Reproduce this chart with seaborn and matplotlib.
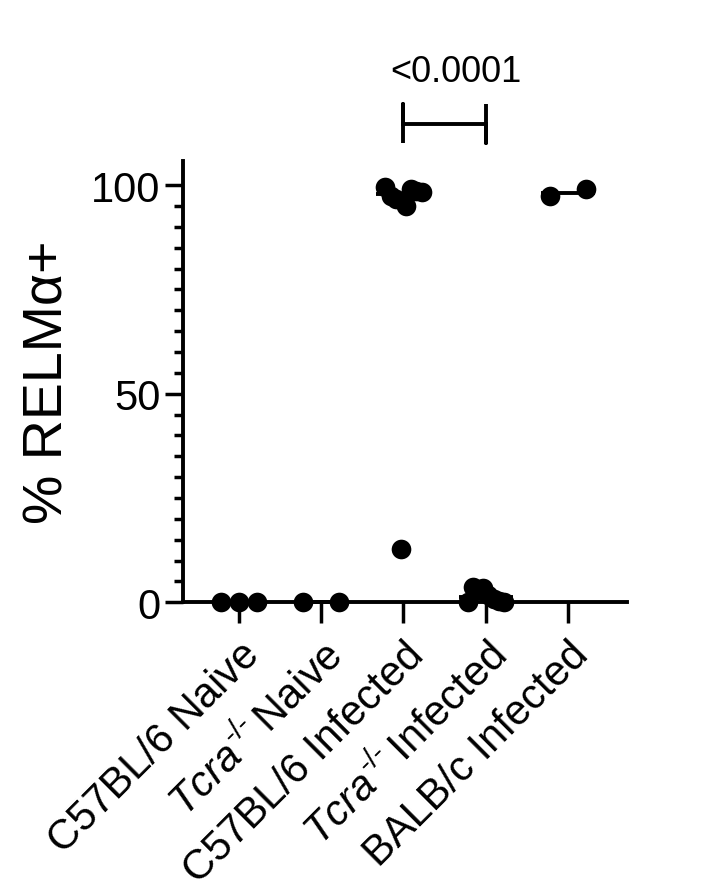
import numpy as np
import pandas as pd
import matplotlib
matplotlib.use('Agg')
import matplotlib.pyplot as plt
import seaborn as sns

groups = ['C57BL/6 Naive', 'Tcra-/- Naive', 'C57BL/6 Infected',
          'Tcra-/- Infected', 'BALB/c Infected']
tick_labels = ['C57BL/6 Naive',
               r'$\mathit{Tcra}^{\text{-/-}}\,$Naive',
               'C57BL/6 Infected',
               r'$\mathit{Tcra}^{\text{-/-}}\,$Infected',
               'BALB/c Infected']

b6_naive = [0.0, 0.0, 0.0]
tcra_naive = [0.0, 0.0]
b6_infected = [99.5, 97.3, 96.8, 12.7, 95.0, 99.0, 98.7, 98.3]
tcra_infected = [0.0, 3.6, 3.0, 3.4, 1.8, 0.8, 0.2, 0.0]
balbc_infected = [97.4, 99.0]
values = [b6_naive, tcra_naive, b6_infected, tcra_infected, balbc_infected]

p_label = '<0.0001'
p_pair = (2, 3)

sns.set_style('ticks')
plt.rcParams['font.family'] = ['Liberation Sans', 'DejaVu Sans']
plt.rcParams['mathtext.fontset'] = 'custom'
plt.rcParams['mathtext.rm'] = 'Liberation Sans'
plt.rcParams['mathtext.it'] = 'Liberation Sans:italic'
for k in ['text.color', 'axes.labelcolor', 'xtick.color', 'ytick.color',
          'axes.edgecolor']:
    plt.rcParams[k] = 'black'

# long table, points spread evenly across each column (Prism style)
rows = []
for i, (g, vals) in enumerate(zip(groups, values)):
    offs = np.linspace(-0.22, 0.22, len(vals)) if len(vals) > 1 else [0.0]
    for o, v in zip(offs, vals):
        rows.append({'group': g, 'pos': i + o, 'value': v})
df = pd.DataFrame(rows)

fig = plt.figure(figsize=(7.26, 8.95), dpi=100)
ax = fig.add_axes([0.252, 0.326, 0.612, 0.493])

sns.scatterplot(data=df, x='pos', y='value', ax=ax, color='black', s=200,
                edgecolor='black', linewidth=0, clip_on=False, zorder=3,
                legend=False)

med = df.groupby('group', sort=False)['value'].median()
for i, g in enumerate(groups):
    ax.hlines(med[g], i - 0.33, i + 0.33, color='black', lw=2.8, zorder=4,
              clip_on=False)

ax.set_xlim(-0.68, 4.72)
ax.set_ylim(0, 105.8)
ax.set_xticks(range(len(groups)))
ax.set_xticklabels(tick_labels, rotation=45, ha='right',
                   rotation_mode='anchor', fontsize=30)
ax.set_yticks([0, 50, 100])
ax.set_yticks(np.arange(0, 105, 5), minor=True)
ax.tick_params(axis='y', labelsize=30, length=13, width=2.5, pad=3)
ax.tick_params(axis='y', which='minor', length=6.5, width=2.5)
ax.tick_params(axis='x', length=15, width=2.5, pad=8)
ax.set_xlabel('')
ax.set_ylabel('% RELMα+', fontsize=40, labelpad=12)

sns.despine(ax=ax)
for s in ['left', 'bottom']:
    ax.spines[s].set_linewidth(2.8)

# significance bracket
x0, x1 = p_pair
ax.plot([x0, x0, x0, x0, x1, x1, x1], [110, 119.4, 114.6, 114.6, 114.6, 110, 119.4],
        color='black', lw=2.8, clip_on=False, solid_capstyle='butt')
ax.text(2.64, 123, p_label, ha='center', va='bottom', fontsize=26)

fig.savefig('out.png', dpi=100)
